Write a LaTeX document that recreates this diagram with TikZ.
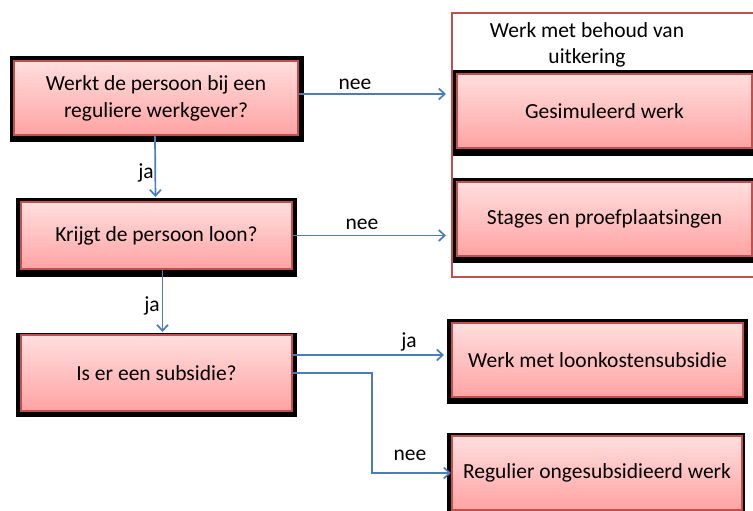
\documentclass[tikz,border=0pt]{standalone}
\usepackage{fontspec}
\setmainfont{Carlito}
\usetikzlibrary{arrows.meta,calc}
\definecolor{pinktop}{RGB}{255,222,222}
\definecolor{pinkbot}{RGB}{255,163,163}
\definecolor{boxred}{RGB}{192,80,77}
\definecolor{lineblue}{RGB}{74,126,187}
\tikzset{
  pinkbox/.style={draw=boxred, line width=2pt, top color=pinktop, bottom color=pinkbot,
    inner sep=0pt, align=center, font=\fontsize{21.5}{27}\selectfont},
  arr/.style={draw=lineblue, line width=1.7pt, -{Straight Barb[length=6pt,width=11pt]}},
  lbl/.style={font=\fontsize{21.5}{24}\selectfont, inner sep=0pt},
  backing/.style={fill=black}
}
\begin{document}
\begin{tikzpicture}[x=1pt,y=-1pt]
\useasboundingbox[fill=white] (0,0) rectangle (753,511);
% red group frame
\draw[boxred, line width=2.5pt] (452,13) rectangle (760,277);
\node[align=center, font=\fontsize{21.5}{26}\selectfont] (title) at (587,45) {Werk met behoud van\\uitkering};
% black backings
\fill[backing] (10,56) rectangle (304,142);
\fill[backing] (16,198) rectangle (297,277);
\fill[backing] (16,333) rectangle (297,417);
\fill[backing] (453,70) rectangle (753,156);
\fill[backing] (453,178) rectangle (753,263);
\fill[backing] (447,319) rectangle (748,404);
\fill[backing] (447,433) rectangle (745,511);
% boxes
\node[pinkbox, minimum width=284pt, minimum height=74pt] (b1) at (156,98) {Werkt de persoon bij een\\reguliere werkgever?};
\node[pinkbox, minimum width=271pt, minimum height=67pt] (b2) at (156.5,235.5) {Krijgt de persoon loon?};
\node[pinkbox, minimum width=271pt, minimum height=76pt] (b3) at (156.5,373) {Is er een subsidie?};
\node[pinkbox, minimum width=295pt, minimum height=74pt] (g) at (604.5,111) {Gesimuleerd werk};
\node[pinkbox, minimum width=295pt, minimum height=74pt] (s) at (604.5,219) {Stages en proefplaatsingen};
\node[pinkbox, minimum width=291pt, minimum height=74pt] (l) at (597.5,360) {Werk met loonkostensubsidie};
\node[pinkbox, minimum width=290pt, minimum height=74pt] (r) at (597,473) {Regulier ongesubsidieerd werk};
% connectors
\draw[arr, shorten >=10pt] ([yshift=4pt]b1.east) -- ([yshift=4pt]b1.east -| g.west);
\draw[arr, shorten >=10pt] (b2.east) -- (b2.east -| s.west);
\draw[arr, shorten >=4pt] ([xshift=-1pt]b1.south) -- ([xshift=-1pt]b2.north);
\draw[arr, shorten >=2pt] ([xshift=6pt]b2.south) -- ([xshift=6pt]b3.north);
\draw[arr, shorten >=7pt] ([yshift=18pt]b3.east) -- ([yshift=18pt]b3.east -| l.west);
\draw[arr] (b3.east) -- ++(79,0) |- (r.west);
% labels
\node[lbl] (n1) at (355,84) {nee};
\node[lbl] (n2) at (362,224) {nee};
\node[lbl] (j1) at (146,173) {ja};
\node[lbl] (j2) at (152,306) {ja};
\node[lbl] (j3) at (409,342) {ja};
\node[lbl] (n3) at (410,455) {nee};
\end{tikzpicture}
\end{document}
